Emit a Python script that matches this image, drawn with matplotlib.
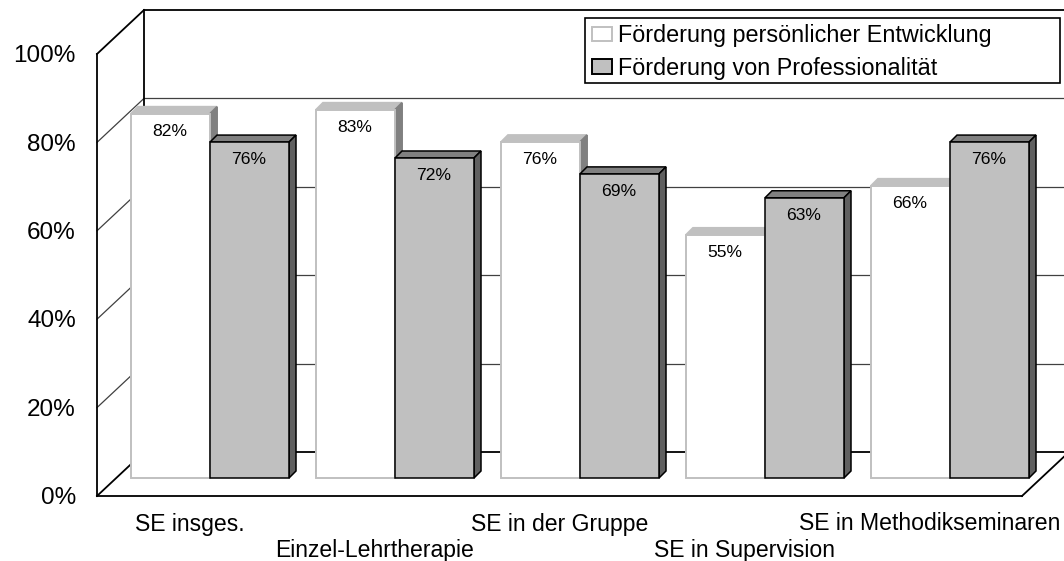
import matplotlib
matplotlib.use('Agg')
import matplotlib.pyplot as plt
from matplotlib.patches import Patch, Rectangle

plt.rcParams['font.family'] = ['Liberation Sans', 'DejaVu Sans']

# Data (bar heights, labels show them rounded)
categories = ['SE insges.', 'Einzel-Lehrtherapie', 'SE in der Gruppe', 'SE in Supervision', 'SE in Methodikseminaren']
entwicklung = [82.4, 83.3, 76, 55, 66.1]
professionalitaet = [76, 72.4, 68.8, 63.4, 76]
series_names = ['Förderung persönlicher Entwicklung', 'Förderung von Professionalität']
y_ticks = [0, 20, 40, 60, 80, 100]

# Scales: one x unit is one category, one y unit is one percent
px_x = 185.0
px_y = 4.42
bar_w = 79 / px_x
dx = 7 / px_x
dy = 7 / px_y
front_dy = -18 / px_y   # front edge of the floor, below the bars
back_dy = 26 / px_y     # back wall, above the bars
wall_left = -113 / px_x
wall_back = -66 / px_x
right_front = 812 / px_x
right_back = 859 / px_x

fig = plt.figure(figsize=(10.64, 5.61), dpi=100)
ax = fig.add_axes([0, 0, 1, 1])
ax.set_xlim(-210 / px_x, 854 / px_x)
ax.set_ylim(-83 / px_y, 478 / px_y)
ax.axis('off')

line_kw = dict(color='black', lw=1.3, solid_capstyle='projecting', zorder=2)
grid_kw = dict(color='#404040', lw=0.9, zorder=1)

# Back wall, side wall and floor
for t in y_ticks[1:-1]:
    ax.plot([wall_left, wall_back], [t + front_dy, t + back_dy], **grid_kw)
    ax.plot([wall_back, ax.get_xlim()[1]], [t + back_dy, t + back_dy], **grid_kw)
ax.plot([wall_left, wall_left], [front_dy, 100 + front_dy], **line_kw)
ax.plot([wall_back, wall_back], [back_dy, 100 + back_dy], **line_kw)
ax.plot([wall_left, wall_back], [100 + front_dy, 100 + back_dy], **line_kw)
ax.plot([wall_back, ax.get_xlim()[1]], [100 + back_dy, 100 + back_dy], **line_kw)
ax.plot([wall_left, wall_back], [front_dy, back_dy], **line_kw)
ax.plot([wall_back, ax.get_xlim()[1]], [back_dy, back_dy], **line_kw)
ax.plot([wall_left, right_front], [front_dy, front_dy], **line_kw)
ax.plot([right_front, right_back], [front_dy, back_dy], **line_kw)


def draw_bar(x, value, face, edge, top, side, lw, z):
    top_edge = edge if edge == 'black' else top
    side_edge = edge if edge == 'black' else side
    ax.fill([x, x + dx, x + bar_w + dx, x + bar_w], [value, value + dy, value + dy, value],
            facecolor=top, edgecolor=top_edge, lw=lw, zorder=z)
    ax.fill([x + bar_w, x + bar_w + dx, x + bar_w + dx, x + bar_w], [0, dy, value + dy, value],
            facecolor=side, edgecolor=side_edge, lw=lw, zorder=z)
    ax.bar(x, value, width=bar_w, align='edge', facecolor=face, edgecolor=edge, linewidth=lw, zorder=z + 0.1)
    ax.text(x + bar_w / 2 - 1 / px_x, value - 4.0, f'{round(value)}%', ha='center', va='center',
            fontsize=12.6, zorder=z + 0.2)


for i in range(len(categories)):
    z = 3 + i
    draw_bar(i - bar_w, entwicklung[i], 'white', '#c0c0c0', '#c0c0c0', '#808080', 1.4, z)
    draw_bar(i, professionalitaet[i], '#c0c0c0', 'black', '#808080', '#606060', 1.1, z + 0.3)

# Axis labels
for t in y_ticks:
    ax.text(wall_left - 21 / px_x, t + front_dy - 0.5, f'{t}%', ha='right', va='center', fontsize=17.5)
for i, name in enumerate(categories):
    row_y = -46 / px_y if i % 2 == 0 else -73 / px_y
    ax.text(i - 20 / px_x, row_y, name, ha='center', va='center', fontsize=16.6)

# Legend box is drawn by hand, it is tighter than the legend's own frame
ax.add_patch(Rectangle((585 / 1064, 1 - 83 / 561), 475 / 1064, 65 / 561, transform=fig.transFigure,
                       facecolor='white', edgecolor='black', lw=1.2, zorder=19))
handles = [Patch(facecolor='white', edgecolor='#c0c0c0', lw=1.4),
           Patch(facecolor='#c0c0c0', edgecolor='black', lw=1.4)]
leg = ax.legend(handles, series_names, loc='upper left',
                bbox_to_anchor=(584 / 1064, 1 - 16 / 561),
                bbox_transform=fig.transFigure, fontsize=16.8, frameon=False,
                borderaxespad=0, handlelength=0.86, handleheight=0.56,
                handletextpad=0.26, labelspacing=0.42, borderpad=0.34)
leg.set_zorder(20)

fig.savefig('out.png', dpi=100)
